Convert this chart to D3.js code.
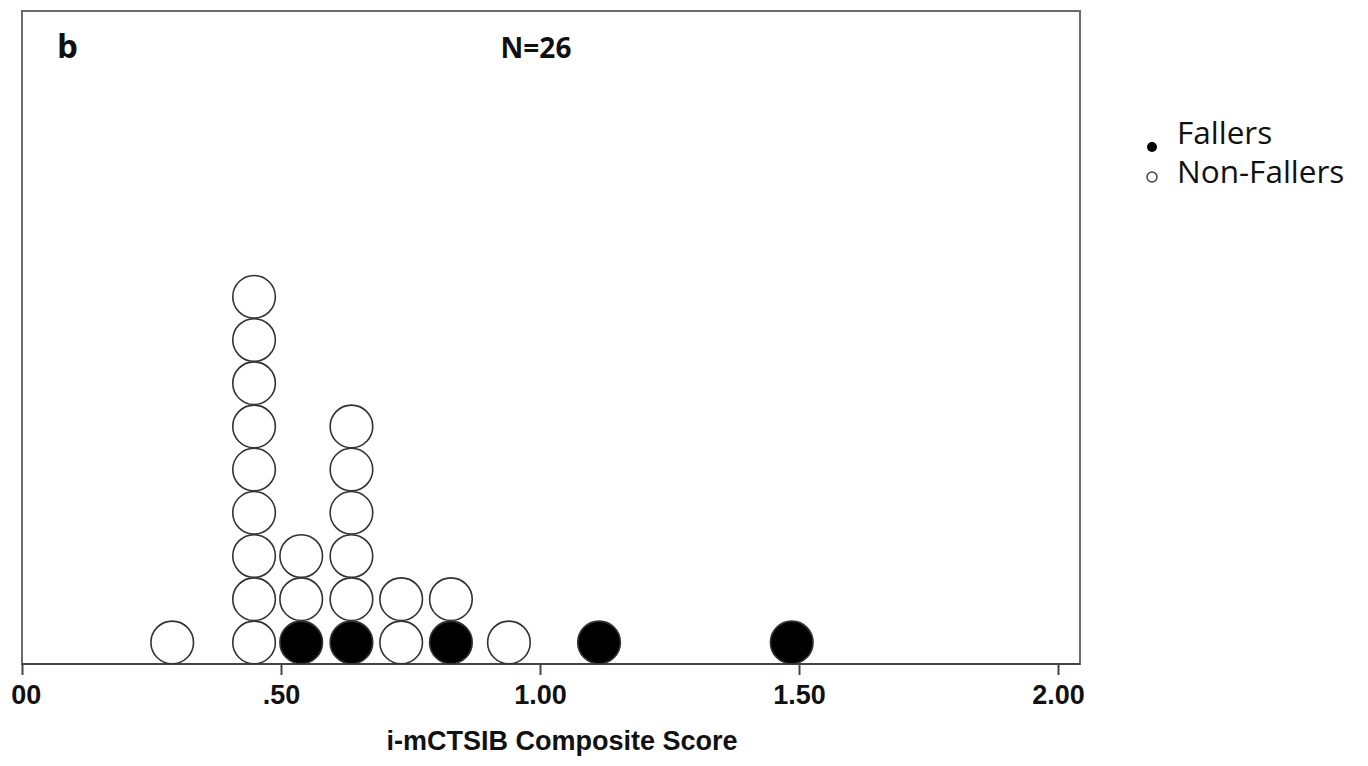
<!DOCTYPE html>
<head>
  <meta charset="utf-8">
  <title>i-mCTSIB dot plot</title>
  <style>
    body { margin: 0; background: #fff; }
  </style>
</head>
<body>
<svg width="1368" height="766"></svg>
<script src="https://d3js.org/d3.v7.min.js"></script>
<script>

// scores, one entry per subject
var fallers    = [0.539, 0.636, 0.828, 1.114, 1.486];
var nonFallers = [0.29,
                  0.448, 0.448, 0.448, 0.448, 0.448, 0.448, 0.448, 0.448, 0.448,
                  0.539, 0.539,
                  0.636, 0.636, 0.636, 0.636, 0.636,
                  0.732, 0.732,
                  0.828,
                  0.94];
var xTicks = [0, 0.5, 1, 1.5, 2];
var legendLabels = ["Fallers", "Non-Fallers"];

var svg = d3.select("svg");

var frame = {left: 22, top: 11, right: 1080, bottom: 664};

var x = d3.scaleLinear().domain([0, 2]).range([22, 1058]);
// one unit = one stacked dot
var y = d3.scaleLinear().domain([0, 1]).range([frame.bottom, frame.bottom - 43.2]);

// stack the dots: fallers first (bottom of each column), then non-fallers
var points = fallers.map(function(v) { return {value: v, faller: true}; })
  .concat(nonFallers.map(function(v) { return {value: v, faller: false}; }));

var counts = new Map();
points.forEach(function(d) {
  var c = counts.get(d.value) || 0;
  d.level = c;
  counts.set(d.value, c + 1);
});

// frame
svg.append("rect")
    .attr("x", frame.left)
    .attr("y", frame.top)
    .attr("width", frame.right - frame.left)
    .attr("height", frame.bottom - frame.top)
    .attr("fill", "none")
    .attr("stroke", "#6b6b6b")
    .attr("stroke-width", 2);

svg.append("line")
    .attr("x1", frame.left).attr("x2", frame.right)
    .attr("y1", frame.bottom).attr("y2", frame.bottom)
    .attr("stroke", "#444")
    .attr("stroke-width", 2);

// dots
svg.append("g")
  .selectAll("circle")
  .data(points)
  .join("circle")
    .attr("cx", function(d) { return x(d.value); })
    .attr("cy", function(d) { return y(d.level + 0.5); })
    .attr("r", 21.3)
    .attr("fill", function(d) { return d.faller ? "#000" : "#fff"; })
    .attr("stroke", "#333")
    .attr("stroke-width", 1.6);

// x axis (the picture is cropped just left of the first label)
svg.append("clipPath").attr("id", "axclip")
  .append("rect").attr("x", 10).attr("y", -5).attr("width", 1358).attr("height", 60);

var fmt = function(d) { return d3.format(".2f")(d).replace(/^0\./, "."); };

var ax = svg.append("g")
    .attr("transform", "translate(0," + frame.bottom + ")")
    .attr("clip-path", "url(#axclip)")
    .call(d3.axisBottom(x).tickValues(xTicks).tickFormat(fmt).tickSize(11).tickPadding(10));

ax.select(".domain").remove();
ax.selectAll(".tick line").attr("stroke", "#444").attr("stroke-width", 2);
ax.selectAll(".tick text")
    .attr("fill", "#111")
    .style("font-family", "'Liberation Sans', Arial, sans-serif")
    .style("font-weight", "bold")
    .style("font-size", "27px");

svg.append("text")
    .attr("x", 562)
    .attr("y", 750)
    .attr("text-anchor", "middle")
    .attr("fill", "#111")
    .style("font-family", "'Liberation Sans', Arial, sans-serif")
    .style("font-weight", "bold")
    .style("font-size", "27px")
    .text("i-mCTSIB Composite Score");

// panel letter and N
svg.append("text")
    .attr("x", 57)
    .attr("y", 58)
    .attr("fill", "#111")
    .style("font-family", "'Open Sans', sans-serif")
    .style("font-weight", "bold")
    .style("font-size", "33px")
    .text("b");

svg.append("text")
    .attr("x", 536)
    .attr("y", 58)
    .attr("text-anchor", "middle")
    .attr("fill", "#111")
    .style("font-family", "'Open Sans', sans-serif")
    .style("font-weight", "bold")
    .style("font-size", "28px")
    .text("N=" + points.length);

// legend
var legend = svg.append("g")
  .selectAll("g")
  .data(legendLabels)
  .join("g")
    .attr("transform", function(d, i) { return "translate(1152," + (146 + i * 37) + ")"; });

legend.append("circle")
    .attr("cx", 0)
    .attr("cy", function(d, i) { return i === 0 ? 1 : -6; })
    .attr("r", 5)
    .attr("fill", function(d, i) { return i === 0 ? "#000" : "#fff"; })
    .attr("stroke", function(d, i) { return i === 0 ? "none" : "#444"; })
    .attr("stroke-width", 1.5);

legend.append("text")
    .attr("x", 25)
    .attr("y", function(d, i) { return i === 0 ? -2 : 0; })
    .attr("fill", "#111")
    .style("font-family", "'Open Sans', sans-serif")
    .style("font-size", "31.5px")
    .text(function(d) { return d; });

</script>
</body>
